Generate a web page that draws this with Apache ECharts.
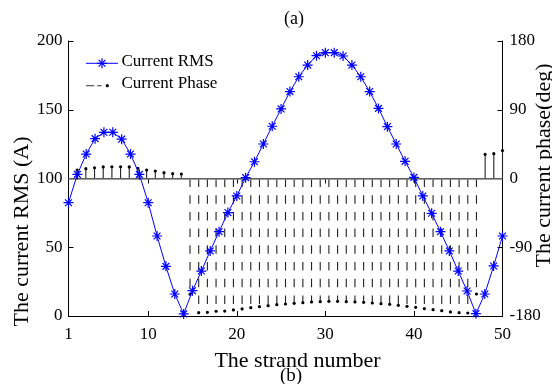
<!DOCTYPE html>
<html>
<head>
<meta charset="utf-8">
<script src="https://cdn.jsdelivr.net/npm/echarts@6/dist/echarts.min.js"></script>
<style>
  html, body { margin: 0; padding: 0; background: #ffffff; }
  #chart { width: 552px; height: 384px; }
</style>
</head>
<body>
<div id="chart"></div>
<script>
// Strand index along the conductor
const strandNumbers = [
  1, 2, 3, 4, 5, 6, 7, 8, 9, 10,
  11, 12, 13, 14, 15, 16, 17, 18, 19, 20,
  21, 22, 23, 24, 25, 26, 27, 28, 29, 30,
  31, 32, 33, 34, 35, 36, 37, 38, 39, 40,
  41, 42, 43, 44, 45, 46, 47, 48, 49, 50
];

// RMS current in each strand (A)
const currentRms = [
  82.4, 103.0, 117.8, 129.0, 133.6, 133.6, 128.6, 117.8, 103.0, 82.4,
  58.2, 36.1, 16.0, 1.5, 18.4, 32.7, 47.3, 61.3, 75.2, 87.3,
  100.6, 112.2, 125.1, 138.0, 150.6, 163.2, 174.0, 182.5, 189.3, 191.5,
  191.5, 189.1, 182.5, 174.0, 163.2, 151.0, 137.7, 125.1, 112.5, 100.8,
  87.3, 74.7, 61.3, 47.3, 32.7, 18.2, 1.7, 16.0, 36.4, 58.2
];

// Phase angle of the current in each strand (deg)
const currentPhase = [
  11.1, 12.8, 14.1, 15.1, 15.4, 15.4, 15.1, 13.4, 11.1, 9.8,
  7.6, 6.3, 5.9, -151.5, -175.7, -175.2, -173.8, -173.5, -172.1, -170.8,
  -169.1, -167.8, -166.5, -165.2, -164.3, -163.4, -162.6, -161.7, -161.2, -160.8,
  -160.8, -161.2, -161.6, -162.1, -163.0, -163.8, -164.7, -166.0, -167.3, -168.6,
  -170.4, -171.7, -173.0, -174.7, -175.7, -176.1, -151.2, 31.7, 32.5, 36.6
];

// Axis tick positions
const strandTicks = [1, 10, 20, 30, 40, 50];
const rmsRange = [0, 200, 50];
const phaseRange = [-180, 180, 90];

const FONT = "'Liberation Serif', 'Times New Roman', serif";
const BLUE = '#0000ff';

// Eight-armed asterisk marker (plus + cross)
const ASTERISK = 'path://M5,0 L5,10 M0,5 L10,5 M1.6,1.6 L8.4,8.4 M1.6,8.4 L8.4,1.6';

const chart = echarts.init(document.getElementById('chart'), null, { renderer: 'canvas' });

const axisLineStyle = { color: '#000', width: 1 };
const tickText = { color: '#000', fontFamily: FONT, fontSize: 17 };
const nameText = { color: '#000', fontFamily: FONT, fontSize: 22 };

// small helper for the legend asterisk, built from four strokes
function legendAsterisk(cx, cy, r) {
  const d = r * 0.68;
  const segs = [[0, -r, 0, r], [-r, 0, r, 0], [-d, -d, d, d], [-d, d, d, -d]];
  return segs.map(s => ({
    type: 'line', z: 10,
    shape: { x1: cx + s[0], y1: cy + s[1], x2: cx + s[2], y2: cy + s[3] },
    style: { stroke: BLUE, lineWidth: 1.2 }
  }));
}

const option = {
  animation: false,
  backgroundColor: '#ffffff',
  grid: {
    left: 68.5, right: 49.5, top: 41, bottom: 68,
    containLabel: false,
    outerBoundsMode: 'none'
  },
  xAxis: [
    {
      type: 'value', min: 1, max: 50, position: 'bottom',
      name: 'The strand number', nameLocation: 'middle', nameGap: 34,
      nameMoveOverlap: false,
      nameTextStyle: Object.assign({ padding: [0, 0, 0, 24] }, nameText),
      axisLine: { show: true, lineStyle: axisLineStyle },
      axisTick: { show: true, inside: true, length: 5, customValues: strandTicks, lineStyle: axisLineStyle },
      axisLabel: Object.assign({ margin: 10, customValues: strandTicks }, tickText),
      splitLine: { show: false }
    },
    {
      type: 'value', min: 1, max: 50, position: 'top',
      axisLine: { show: true, lineStyle: axisLineStyle },
      axisTick: { show: true, inside: true, length: 5, customValues: strandTicks, lineStyle: axisLineStyle },
      axisLabel: { show: false },
      splitLine: { show: false }
    },
    {
      // stems of the phase plot sit on their own 0..50 strand scale
      type: 'value', min: 0, max: 50, show: false,
      splitLine: { show: false }
    }
  ],
  yAxis: [
    {
      type: 'value', position: 'left',
      min: rmsRange[0], max: rmsRange[1], interval: rmsRange[2],
      name: 'The current RMS (A)', nameLocation: 'middle', nameGap: 35,
      nameMoveOverlap: false,
      nameTextStyle: Object.assign({ padding: [0, 106, 0, 0] }, nameText),
      axisLine: { show: true, lineStyle: axisLineStyle },
      axisTick: { show: true, inside: true, length: 5, lineStyle: axisLineStyle },
      axisLabel: Object.assign({ margin: 6 }, tickText),
      splitLine: { show: false }
    },
    {
      type: 'value', position: 'right',
      min: phaseRange[0], max: phaseRange[1], interval: phaseRange[2],
      name: 'The current phase(deg)', nameLocation: 'middle', nameGap: 31,
      nameMoveOverlap: false,
      nameTextStyle: Object.assign({ padding: [0, 0, 0, 26] }, nameText),
      axisLine: { show: true, lineStyle: axisLineStyle },
      axisTick: { show: true, inside: true, length: 5, lineStyle: axisLineStyle },
      axisLabel: Object.assign({ margin: 7 }, tickText),
      splitLine: { show: false }
    }
  ],
  series: [
    {
      name: 'Current Phase',
      type: 'custom',
      xAxisIndex: 2,
      yAxisIndex: 1,
      z: 2,
      data: strandNumbers.map((s, i) => [s, currentPhase[i]]),
      renderItem: function (params, api) {
        const x = api.value(0);
        const v = api.value(1);
        const base = api.coord([x, 0]);
        const tip = api.coord([x, v]);
        return {
          type: 'group',
          children: [
            {
              type: 'line',
              shape: { x1: base[0], y1: base[1], x2: tip[0], y2: tip[1] },
              style: { stroke: '#222', lineWidth: 1.1, lineDash: v < 0 ? [8.5, 8.2] : null }
            },
            {
              type: 'circle',
              shape: { cx: tip[0], cy: tip[1], r: 1.6 },
              style: { fill: '#000' }
            }
          ]
        };
      },
      markLine: {
        silent: true,
        symbol: 'none',
        label: { show: false },
        lineStyle: { color: '#7f7f7f', width: 1.5, type: 'solid' },
        data: [{ yAxis: 0 }]
      }
    },
    {
      name: 'Current RMS',
      type: 'line',
      xAxisIndex: 0,
      yAxisIndex: 0,
      z: 5,
      data: strandNumbers.map((s, i) => [s, currentRms[i]]),
      symbol: ASTERISK,
      symbolSize: 10,
      lineStyle: { color: BLUE, width: 1 },
      itemStyle: { color: BLUE, borderColor: BLUE, borderWidth: 1.2 }
    }
  ],
  graphic: [
    // legend: RMS entry
    { type: 'line', shape: { x1: 86, y1: 63.3, x2: 118, y2: 63.3 }, style: { stroke: BLUE, lineWidth: 1 }, z: 10 }
  ].concat(legendAsterisk(102, 63.3, 5), [
    {
      type: 'text', left: 121.5, top: 53, z: 10,
      style: { text: 'Current RMS', font: '17px ' + FONT, fill: '#000' }
    },
    // legend: phase entry
    { type: 'line', shape: { x1: 86, y1: 85.7, x2: 94.3, y2: 85.7 }, style: { stroke: '#555', lineWidth: 1.2 }, z: 10 },
    { type: 'line', shape: { x1: 97.3, y1: 85.7, x2: 101.5, y2: 85.7 }, style: { stroke: '#555', lineWidth: 1.2 }, z: 10 },
    { type: 'circle', shape: { cx: 107.3, cy: 85.7, r: 1.6 }, style: { fill: '#000' }, z: 10 },
    {
      type: 'text', left: 121.5, top: 75.5, z: 10,
      style: { text: 'Current Phase', font: '17px ' + FONT, fill: '#000' }
    },
    // panel captions
    {
      type: 'text', x: 294, y: 19, z: 10,
      style: { text: '(a)', font: '18px ' + FONT, fill: '#000', align: 'center', verticalAlign: 'middle' }
    },
    {
      type: 'text', x: 291, y: 376, z: 10,
      style: { text: '(b)', font: '19px ' + FONT, fill: '#000', align: 'center', verticalAlign: 'middle' }
    }
  ])
};

chart.setOption(option);
</script>
</body>
</html>
